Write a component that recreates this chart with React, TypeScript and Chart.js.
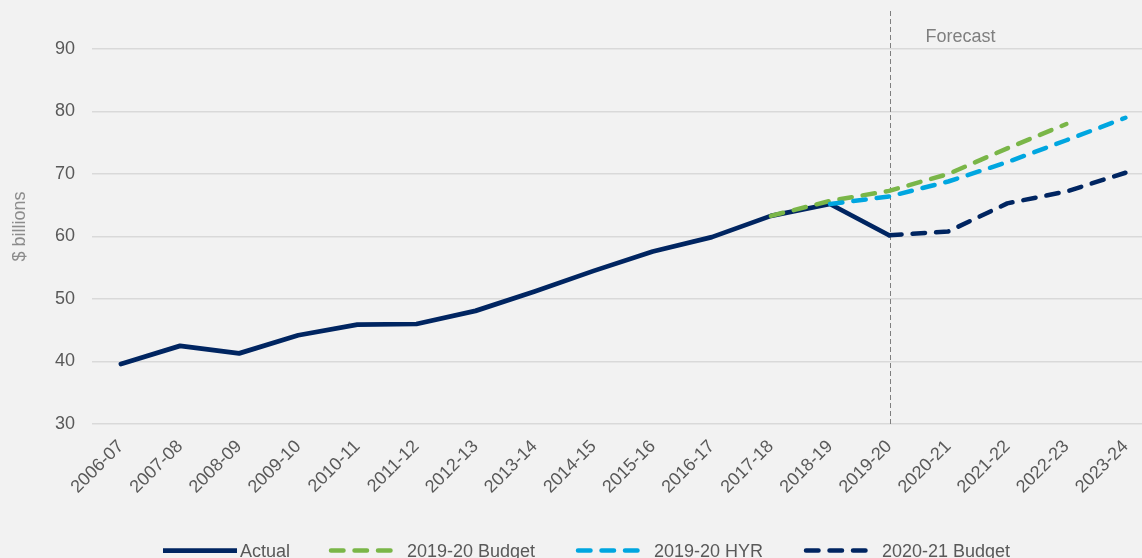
import React, { useEffect, useRef } from 'react';
import { Chart, registerables } from 'chart.js';

Chart.register(...registerables);

const categories = [
  '2006-07', '2007-08', '2008-09', '2009-10', '2010-11', '2011-12', '2012-13', '2013-14', '2014-15',
  '2015-16', '2016-17', '2017-18', '2018-19', '2019-20', '2020-21', '2021-22', '2022-23', '2023-24',
];
const actual = [39.6, 42.5, 41.3, 44.2, 45.9, 46.0, 48.1, 51.2, 54.5, 57.6, 59.9, 63.3, 65.2, 60.2, null, null, null, null];
const budget1920 = [null, null, null, null, null, null, null, null, null, null, null, 63.3, 65.7, 67.3, 70.0, 74.1, 78.0, null];
const hyr1920 = [null, null, null, null, null, null, null, null, null, null, null, null, 65.2, 66.4, 68.8, 71.9, 75.4, 79.0];
const budget2021 = [null, null, null, null, null, null, null, null, null, null, null, null, null, 60.2, 60.8, 65.3, 67.2, 70.2];
const seriesLabels = ['Actual', '2019-20 Budget', '2019-20 HYR', '2020-21 Budget'];
const yMin = 30;
const yMax = 90;
const yStep = 10;
const yTitle = '$ billions';
const forecastLabel = 'Forecast';
const forecastIndex = 13;

const FONT = "'Liberation Sans', Arial, sans-serif";
const NAVY = '#002561';
const GREEN = '#7AB648';
const BLUE = '#00A6E0';
const BG = '#F2F2F2';

const toPoints = (arr: (number | null)[]) => arr.map((v, i) => ({ x: i, y: v }));

const bgPlugin = {
  id: 'bgFill',
  beforeDraw(chart: any) {
    const { ctx, width, height } = chart;
    ctx.save();
    ctx.fillStyle = BG;
    ctx.fillRect(0, 0, width, height);
    ctx.restore();
  },
};

const yTitlePlugin = {
  id: 'yTitle',
  afterDraw(chart: any) {
    const { ctx, chartArea } = chart;
    ctx.save();
    ctx.translate(20, (chartArea.top + chartArea.bottom) / 2 - 10);
    ctx.rotate(-Math.PI / 2);
    ctx.fillStyle = '#8C8C8C';
    ctx.font = `18px ${FONT}`;
    ctx.textAlign = 'center';
    ctx.textBaseline = 'middle';
    ctx.fillText(yTitle, 0, 0);
    ctx.restore();
  },
};

const forecastPlugin = {
  id: 'forecastMarker',
  beforeDatasetsDraw(chart: any) {
    const { ctx, chartArea } = chart;
    const x = Math.round(chart.scales.x.getPixelForValue(forecastIndex)) + 1.5;
    ctx.save();
    ctx.strokeStyle = '#7F7F7F';
    ctx.lineWidth = 1;
    ctx.setLineDash([5, 3]);
    ctx.beginPath();
    ctx.moveTo(x, chartArea.top - 38);
    ctx.lineTo(x, chartArea.bottom);
    ctx.stroke();
    ctx.setLineDash([]);
    ctx.fillStyle = '#7F7F7F';
    ctx.font = `18px ${FONT}`;
    ctx.textAlign = 'left';
    ctx.textBaseline = 'alphabetic';
    ctx.fillText(forecastLabel, x + 35, chartArea.top - 7);
    ctx.restore();
  },
};

const legendPlugin = {
  id: 'customLegend',
  afterDraw(chart: any) {
    const { ctx } = chart;
    const starts = [165, 331, 578, 806];
    const lineY = 550.5;
    ctx.save();
    chart.data.datasets.forEach((ds: any, i: number) => {
      const sx = starts[i];
      const dashed = ds.borderDash && ds.borderDash.length > 0;
      ctx.strokeStyle = ds.borderColor;
      ctx.lineWidth = ds.borderWidth;
      ctx.lineCap = dashed ? 'round' : 'butt';
      ctx.setLineDash(ds.borderDash || []);
      ctx.beginPath();
      ctx.moveTo(sx - (dashed ? 0 : 2), lineY);
      ctx.lineTo(sx + (dashed ? 63 : 72), lineY);
      ctx.stroke();
      ctx.setLineDash([]);
      ctx.fillStyle = '#595959';
      ctx.font = `18px ${FONT}`;
      ctx.textAlign = 'left';
      ctx.textBaseline = 'alphabetic';
      ctx.fillText(ds.label, sx + (dashed ? 76 : 75), 557);
    });
    ctx.restore();
  },
};

export default function App() {
  const canvasRef = useRef<HTMLCanvasElement | null>(null);

  useEffect(() => {
    const canvas = canvasRef.current;
    if (!canvas) return;
    const dashStyle = {
      borderWidth: 4.5,
      borderDash: [12.5, 11],
      borderCapStyle: 'round' as const,
      borderJoinStyle: 'round' as const,
    };
    const chart = new Chart(canvas, {
      type: 'line',
      data: {
        datasets: [
          {
            label: seriesLabels[0],
            data: toPoints(actual),
            borderColor: NAVY,
            backgroundColor: NAVY,
            borderWidth: 4.75,
            borderJoinStyle: 'round',
            borderCapStyle: 'round',
            pointRadius: 0,
            tension: 0,
            order: 3,
          },
          {
            label: seriesLabels[1],
            data: toPoints(budget1920),
            borderColor: GREEN,
            backgroundColor: GREEN,
            ...dashStyle,
            pointRadius: 0,
            tension: 0,
            order: 2,
          },
          {
            label: seriesLabels[2],
            data: toPoints(hyr1920),
            borderColor: BLUE,
            backgroundColor: BLUE,
            ...dashStyle,
            pointRadius: 0,
            tension: 0,
            order: 1,
          },
          {
            label: seriesLabels[3],
            data: toPoints(budget2021),
            borderColor: NAVY,
            backgroundColor: NAVY,
            ...dashStyle,
            pointRadius: 0,
            tension: 0,
            order: 0,
          },
        ] as any,
      },
      options: {
        animation: false,
        responsive: false,
        maintainAspectRatio: false,
        layout: { padding: { top: 49, left: 0, right: 0, bottom: 0 } },
        plugins: {
          legend: { display: false },
          tooltip: { enabled: false },
        },
        scales: {
          x: {
            type: 'linear',
            min: -0.49,
            max: 17.28,
            grid: { display: false },
            border: { display: false },
            afterBuildTicks: (scale: any) => {
              scale.ticks = categories.map((_, i) => ({ value: i }));
            },
            afterFit: (scale: any) => {
              scale.height = 134;
              scale.paddingLeft = 0;
              scale.paddingRight = 0;
            },
            ticks: {
              autoSkip: false,
              minRotation: 45,
              maxRotation: 45,
              padding: 4,
              color: '#595959',
              font: { family: FONT, size: 18 },
              callback: (v: any) => categories[Math.round(Number(v))] ?? '',
            },
          },
          y: {
            type: 'linear',
            min: yMin,
            max: yMax,
            grid: { color: '#D9D9D9', lineWidth: 1.5, drawTicks: false },
            border: { display: false },
            afterFit: (scale: any) => {
              scale.width = 92;
            },
            ticks: {
              stepSize: yStep,
              padding: 17,
              color: '#595959',
              font: { family: FONT, size: 18 },
            },
            title: { display: false },
          },
        },
      } as any,
      plugins: [bgPlugin, forecastPlugin, legendPlugin, yTitlePlugin],
    });
    return () => chart.destroy();
  }, []);

  return (
    <div
      style={{
        position: 'fixed',
        left: 0,
        top: 0,
        width: 1142,
        height: 558,
        overflow: 'hidden',
        background: BG,
      }}
    >
      <canvas ref={canvasRef} width={1142} height={558} style={{ display: 'block' }} />
    </div>
  );
}
